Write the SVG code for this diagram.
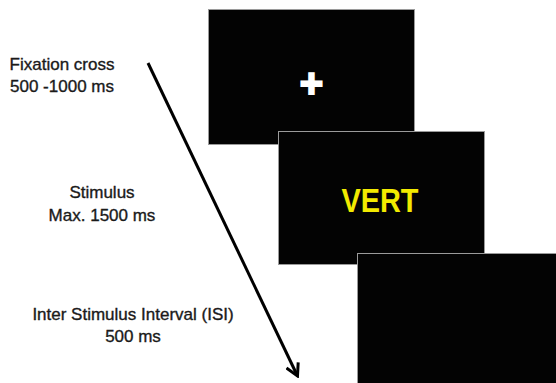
<svg xmlns="http://www.w3.org/2000/svg" width="556" height="383" viewBox="0 0 556 383">
<style>
.lbl{font-family:"Liberation Sans",Arial,sans-serif;font-size:17px;fill:#1a1a1a;stroke:#1a1a1a;stroke-width:0.35;text-anchor:middle}
.scr{fill:#030303;stroke:#9a9a9a;stroke-width:1}
.arrow{stroke:#000;stroke-width:3;fill:none}
</style>
<defs>
<marker id="chev" markerUnits="userSpaceOnUse" viewBox="-14 -8 16 16" markerWidth="16" markerHeight="16" refX="0" refY="0" orient="auto">
<path d="M-12,-6.5 L0,0 L-12,6.5" fill="none" stroke="#000" stroke-width="3" stroke-linejoin="miter"/>
</marker>
</defs>
<rect width="556" height="383" fill="#fff"/>
<g id="label-fixation">
<text class="lbl" x="62" y="70">Fixation cross</text>
<text class="lbl" x="62" y="92">500 -1000 ms</text>
</g>
<g id="label-stimulus">
<text class="lbl" x="102" y="198">Stimulus</text>
<text class="lbl" x="102" y="221">Max. 1500 ms</text>
</g>
<g id="label-isi">
<text class="lbl" x="133" y="320">Inter Stimulus Interval (ISI)</text>
<text class="lbl" x="133" y="342">500 ms</text>
</g>
<g id="screen-fixation">
<rect class="scr" x="208.5" y="9.5" width="206" height="135"/>
<text x="311.5" y="96.5" font-family="Liberation Sans,Arial,sans-serif" font-size="40" font-weight="bold" fill="#fff" stroke="#fff" stroke-width="2" text-anchor="middle">+</text>
</g>
<g id="screen-stimulus">
<rect class="scr" x="278.5" y="131.5" width="206" height="133"/>
<text x="380" y="211.5" font-family="Liberation Sans,Arial,sans-serif" font-size="32.5" font-weight="bold" fill="#f2ea00" text-anchor="middle" textLength="77" lengthAdjust="spacingAndGlyphs">VERT</text>
</g>
<g id="screen-isi">
<rect class="scr" x="357.5" y="253.5" width="205" height="135"/>
</g>
<g id="connectors">
<line class="arrow" x1="148" y1="63" x2="297.5" y2="376" marker-end="url(#chev)"/>
</g>
</svg>
